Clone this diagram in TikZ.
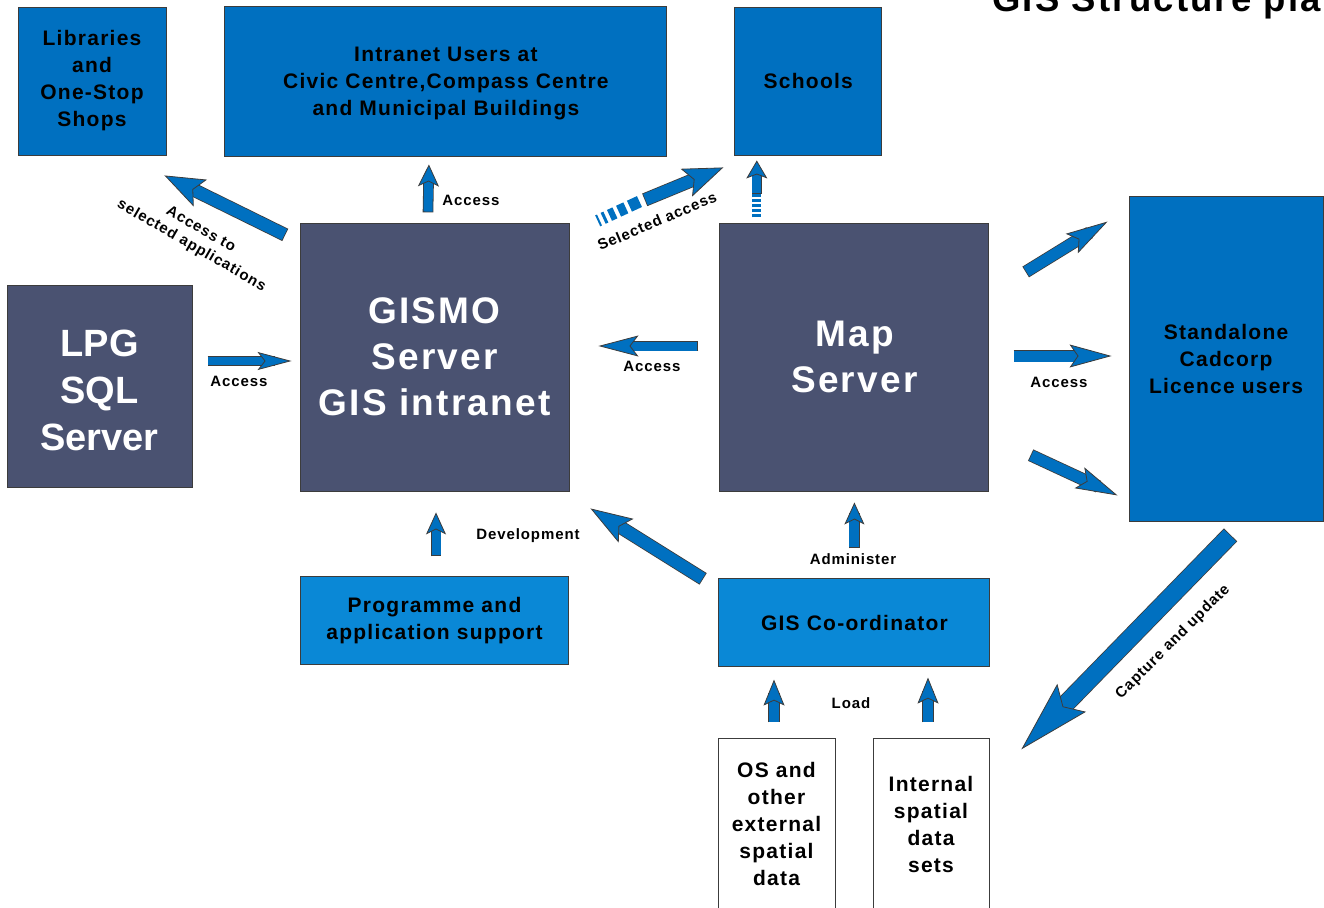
\documentclass[tikz,border=0pt]{standalone}
\usepackage{fontspec}
\setmainfont{Liberation Sans}[LetterSpace=6]
\usetikzlibrary{arrows.meta,positioning}

\definecolor{hubgrey}{HTML}{4A5271}
\definecolor{unitblue}{HTML}{0070C0}
\definecolor{taskblue}{HTML}{0A88D6}
\definecolor{flowblue}{HTML}{0070C0}
\definecolor{edge}{HTML}{3C3C3C}

\begin{document}
\begin{tikzpicture}[x=1pt,y=-1pt,
box/.style={draw=edge,line width=0.9pt,inner sep=0pt,align=center},
hub/.style={box,fill=hubgrey,text=white,font=\fontsize{37}{46}\selectfont\bfseries},
unit/.style={box,fill=unitblue,font=\fontsize{21}{27}\selectfont\bfseries},
task/.style={unit,fill=taskblue},
data/.style={unit,fill=white},
lbl/.style={font=\fontsize{15}{18.5}\selectfont\bfseries,inner sep=0pt},
fat/.style n args={4}{draw=flowblue,line width=#1,
  -{Stealth[length=#2,width=#3,inset=#4,fill=flowblue,color=edge,line width=0.8pt]},
  preaction={draw=edge,line width=#1+1.6pt,shorten >=#2*0.5,shorten <=-0.8pt,-}}]
\useasboundingbox (0,0) rectangle (1324,907);

% title runs off the page
\node[anchor=base west,inner sep=0pt,font=\fontsize{36.5}{40}\selectfont\bfseries] (title) at (992,12) {GIS Structure plan};

% user groups along the top
\node[unit,minimum width=148pt,minimum height=148pt] (lib) at (92,81) {Libraries\\and\\One-Stop\\Shops};
\node[unit,minimum width=442pt,minimum height=150pt,right=58pt of lib] (intra) {\rule{0pt}{20pt}Intranet Users at\\Civic Centre,Compass Centre\\and Municipal Buildings};
\node[unit,minimum width=147pt,minimum height=148pt,right=67pt of intra] (school) {Schools};

% servers
\node[hub,minimum width=269pt,minimum height=268pt] (gismo) at (434.5,357) {GISMO\\Server\\GIS intranet};
\node[hub,minimum width=269pt,minimum height=268pt,right=150pt of gismo] (map) {Map\\Server};
\node[hub,minimum width=185pt,minimum height=202pt,font=\fontsize{38}{47}\selectfont\bfseries\addfontfeature{LetterSpace=0}] (lpg) at (99.5,386) {\rule{0pt}{35pt}LPG\\SQL\\Server};
\node[unit,minimum width=194pt,minimum height=325pt] (alone) at (1226,358.5) {Standalone\\Cadcorp\\Licence users};

% support and data
\node[task,minimum width=268pt,minimum height=88pt,below=85pt of gismo] (prog) {Programme and\\application support};
\node[task,minimum width=271pt,minimum height=88pt,below=87pt of map] (coord) {GIS Co-ordinator};
\node[data,minimum width=117pt,minimum height=172pt] (os) at (776.5,824) {OS and\\other\\external\\spatial\\data};
\node[data,minimum width=116pt,minimum height=172pt] (internal) at (931,824) {Internal\\spatial\\data\\sets};

% flows out of GISMO
\draw[fat={12pt}{40pt}{30pt}{8pt}] ([shift={(-15,12)}]gismo.north west) -- ([shift={(-2,20)}]lib.south east);
\draw[fat={9pt}{22pt}{21pt}{5pt}] ([shift={(-6.5,-11)}]gismo.north) -- ([shift={(-17,8)}]intra.south);
\draw[flowblue,line width=12pt,dash pattern=on 11pt off 4pt on 8pt off 4pt on 6pt off 4pt on 3pt off 4pt on 2pt off 30pt]
  ([shift={(70,-21)}]gismo.north east) -- ([shift={(18,3)}]gismo.north east);
\draw[fat={12pt}{40pt}{30pt}{8pt}] ([shift={(76,-23)}]gismo.north east) -- ([shift={(-11,12)}]school.south west);
\draw[flowblue,line width=9pt,dash pattern=on 3pt off 2pt] ([shift={(-51.5,62)}]school.south) -- ([shift={(-51.5,38)}]school.south);
\draw[fat={9pt}{18pt}{21pt}{4pt}] ([shift={(-51.5,38)}]school.south) -- ([shift={(-51.5,5)}]school.south);

% into GISMO
\draw[fat={8pt}{34pt}{18pt}{7pt}] ([shift={(16,-25)}]lpg.east) -- ([shift={(-8,4)}]gismo.west);
\draw[fat={9pt}{40pt}{21pt}{8pt}] ([shift={(-22,-11)}]map.west) -- ([shift={(29,-11)}]gismo.east);
\draw[fat={9pt}{22pt}{20pt}{5pt}] ([shift={(1.5,-21)}]prog.north) -- ([shift={(1.5,21)}]gismo.south);
\draw[fat={12pt}{42pt}{28pt}{8pt}] ([shift={(-16,0)}]coord.north west) -- ([shift={(21,17)}]gismo.south east);

% map server to standalone users
\draw[fat={11pt}{42pt}{23pt}{8pt}] ([shift={(37,49)}]map.north east) -- ([shift={(-21,26)}]alone.north west);
\draw[fat={11pt}{42pt}{23pt}{8pt}] ([shift={(25,-1)}]map.east) -- ([shift={(-17,-2.5)}]alone.west);
\draw[fat={11pt}{42pt}{23pt}{8pt}] ([shift={(42,-36)}]map.south east) -- ([shift={(-11,-26)}]alone.south west);
\draw[fat={17pt}{72pt}{40pt}{12pt}] ([shift={(4,14)}]alone.south) -- ([shift={(31,82)}]coord.south east);

% co-ordinator and data loads
\draw[fat={10pt}{22pt}{20pt}{5pt}] ([shift={(0,-31)}]coord.north) -- ([shift={(0,11)}]map.south);
\draw[fat={10pt}{26pt}{21pt}{5pt}] ([shift={(-2.5,-16)}]os.north) -- ([shift={(-2.5,-58)}]os.north);
\draw[fat={10pt}{26pt}{21pt}{5pt}] ([shift={(-3,-16)}]internal.north) -- ([shift={(-3,-60)}]internal.north);

% labels
\node[lbl] (accintra) at (471,200) {Access};
\node[lbl] (acclpg) at (239,381) {Access};
\node[lbl] (accmap) at (652,366) {Access};
\node[lbl] (accalone) at (1059,382) {Access};
\node[lbl] (develop) at (528,536) {Development};
\node[lbl] (admin) at (853,559) {Administer};
\node[lbl] (load) at (851,703) {Load};
\node[lbl,align=center,rotate=-30] (accsel) at (196,238) {Access to\\selected applications};
\node[lbl,rotate=23] (selacc) at (657,221) {Selected access};
\node[lbl,rotate=45] (capture) at (1173,642) {Capture and update};
\end{tikzpicture}
\end{document}
